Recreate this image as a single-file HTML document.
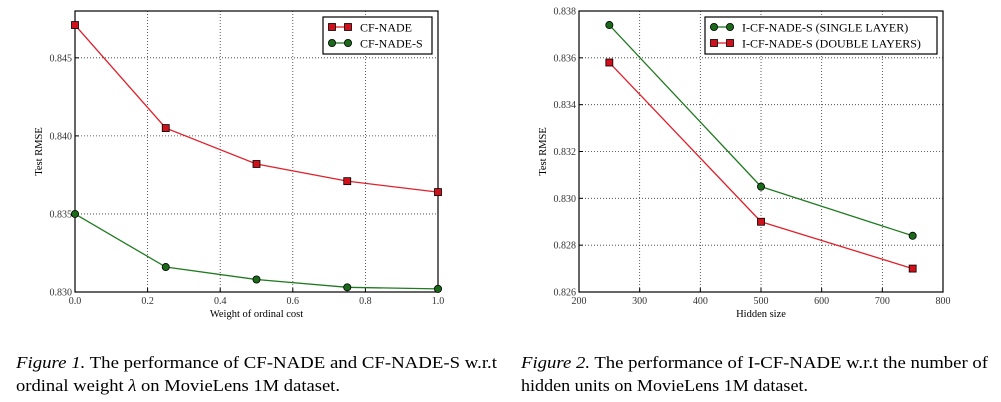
<!DOCTYPE html>
<html><head><meta charset="utf-8"><style>
body{margin:0;background:#fff;width:1001px;height:402px;overflow:hidden}
svg{display:block;font-family:"Liberation Serif",serif}
</style></head><body>
<svg id="s" width="1001" height="402">
<text x="16" y="368" font-size="17" textLength="481" lengthAdjust="spacingAndGlyphs"><tspan font-style="italic">Figure 1.</tspan> The performance of CF-NADE and CF-NADE-S w.r.t</text>
<text x="16" y="391" font-size="17" textLength="324" lengthAdjust="spacingAndGlyphs">ordinal weight <tspan font-style="italic">λ</tspan> on MovieLens 1M dataset.</text>
<text x="521" y="368" font-size="17" textLength="467" lengthAdjust="spacingAndGlyphs"><tspan font-style="italic">Figure 2.</tspan> The performance of I-CF-NADE w.r.t the number of</text>
<text x="521" y="391" font-size="17" textLength="287" lengthAdjust="spacingAndGlyphs">hidden units on MovieLens 1M dataset.</text>
</svg>
<script>
const c1x=[0,0.25,0.5,0.75,1.0];
const c1nade=[0.8471,0.8405,0.8382,0.8371,0.8364];
const c1nadeS=[0.8350,0.8316,0.8308,0.8303,0.8302];
const c1xt=[0.0,0.2,0.4,0.6,0.8,1.0];
const c1yt=[0.830,0.835,0.840,0.845];
const c2x=[250,500,750];
const c2single=[0.8374,0.8305,0.8284];
const c2double=[0.8358,0.8290,0.8270];
const c2xt=[200,300,400,500,600,700,800];
const c2yt=[0.826,0.828,0.830,0.832,0.834,0.836,0.838];

const S=document.getElementById('s'),NS='http://www.w3.org/2000/svg';
function mk(t,a,p){const e=document.createElementNS(NS,t);for(const k in a)e.setAttribute(k,a[k]);(p||S).appendChild(e);return e;}

function chart(id,L,R,T,B,xmin,xmax,ymin,ymax,xt,yt,xdec,ydec,xlabel,series,legX,legW){
  const g=mk('g',{});
  
  
  const X=v=>L+(v-xmin)/(xmax-xmin)*(R-L), Y=v=>B-(v-ymin)/(ymax-ymin)*(B-T);
  xt.forEach(v=>{
    const x=X(v);
    if(v>xmin&&v<xmax){const gl=mk('line',{x1:x,x2:x,y1:T,y2:B,stroke:'#333','stroke-width':0.8,'stroke-dasharray':'1,2'},g);}
    const t=mk('text',{x:x,y:B+12,'font-size':10,'text-anchor':'middle',fill:'#333'},g);t.textContent=v.toFixed(xdec);
    
    mk('line',{x1:x,x2:x,y1:B,y2:B-4,stroke:'#000'},g);
  });
  yt.forEach(v=>{
    const y=Y(v);
    if(v>ymin&&v<ymax){const gl=mk('line',{x1:L,x2:R,y1:y,y2:y,stroke:'#333','stroke-width':0.8,'stroke-dasharray':'1,2'},g);}
    const t=mk('text',{x:L-3,y:y+3.5,'font-size':10,'text-anchor':'end',fill:'#333'},g);t.textContent=v.toFixed(ydec);
    
    mk('line',{x1:L,x2:L+4,y1:y,y2:y,stroke:'#000'},g);
  });
  const fr=mk('rect',{x:L,y:T,width:R-L,height:B-T,fill:'none',stroke:'#000','stroke-width':1.2},g);
  
  const xl=mk('text',{x:(L+R)/2,y:B+25,'font-size':10.5,'text-anchor':'middle'},g);xl.textContent=xlabel;
  
  const yl=mk('text',{x:0,y:0,'font-size':10.5,'text-anchor':'middle',transform:`translate(${L-33},${(T+B)/2}) rotate(-90)`},g);yl.textContent='Test RMSE';
  
  function marker(x,y,s,par){
    let m;
    if(s.shape==='sq') m=mk('rect',{x:x-3.5,y:y-3.5,width:7,height:7,fill:s.fill,stroke:'#000','stroke-width':0.8},par);
    else m=mk('circle',{cx:x,cy:y,r:3.6,fill:s.fill,stroke:'#000','stroke-width':0.8},par);
    return m;
  }
  series.forEach(s=>{
    const pl=mk('polyline',{points:s.xs.map((v,i)=>X(v)+','+Y(s.ys[i])).join(' '),fill:'none',stroke:s.color,'stroke-width':1.3},g);
    
    s.xs.forEach((v,i)=>{const m=marker(X(v),Y(s.ys[i]),s,g);});
  });
  const lg=mk('g',{},g);
  
  mk('rect',{x:legX,y:17,width:legW,height:37,fill:'#fff',stroke:'#000','stroke-width':1.2},lg);
  series.forEach((s,i)=>{
    const y=27+i*16;
    mk('line',{x1:legX+9,x2:legX+25,y1:y,y2:y,stroke:s.color,'stroke-width':1.3},lg);
    marker(legX+9,y,s,lg);marker(legX+25,y,s,lg);
    const t=mk('text',{x:legX+37,y:y+4.5,'font-size':12},lg);t.textContent=s.label;
    
  });
}
chart('chart-1',75,438,11,292,0,1,0.830,0.848,c1xt,c1yt,1,3,'Weight of ordinal cost',[
  {name:'cf-nade',label:'CF-NADE',xs:c1x,ys:c1nade,color:'#e0202a',fill:'#d0101a',shape:'sq'},
  {name:'cf-nade-s',label:'CF-NADE-S',xs:c1x,ys:c1nadeS,color:'#207a20',fill:'#1a6a1a',shape:'ci'}],323,109);
chart('chart-2',579,943,11,292,200,800,0.826,0.838,c2xt,c2yt,0,3,'Hidden size',[
  {name:'single-layer',label:'I-CF-NADE-S (SINGLE LAYER)',xs:c2x,ys:c2single,color:'#207a20',fill:'#1a6a1a',shape:'ci'},
  {name:'double-layers',label:'I-CF-NADE-S (DOUBLE LAYERS)',xs:c2x,ys:c2double,color:'#e0202a',fill:'#d0101a',shape:'sq'}],705,232);
</script>
</body></html>
